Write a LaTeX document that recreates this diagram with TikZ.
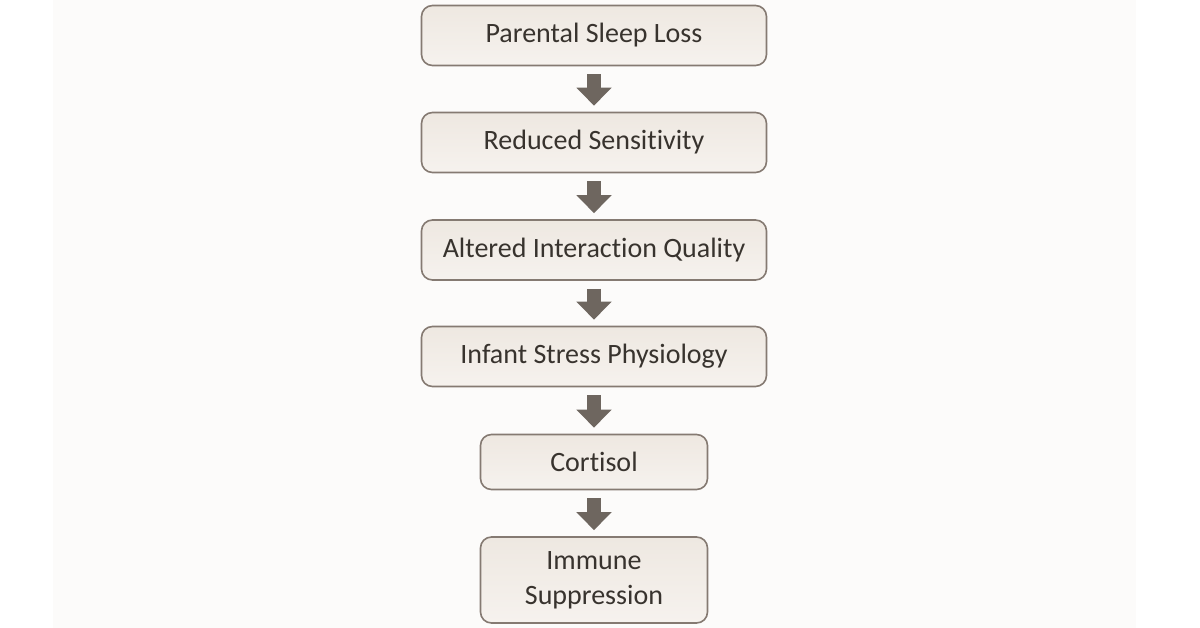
\documentclass[tikz,border=0pt]{standalone}
\usepackage{fontspec}
\setmainfont[RawFeature={-liga;-clig}]{Carlito}
\usetikzlibrary{arrows.meta}
\definecolor{bandbg}{HTML}{FCFBFA}
\definecolor{boxline}{HTML}{857A72}
\definecolor{boxtop}{HTML}{EEE8E1}
\definecolor{boxbot}{HTML}{F6F2EE}
\definecolor{txt}{HTML}{38332E}
\definecolor{arrowc}{HTML}{6E665F}
\tikzset{
  flowbox/.style={draw=boxline, line width=1.6pt, rounded corners=11pt,
    top color=boxtop, bottom color=boxbot, text=txt, align=center,
    font=\fontsize{28}{35}\selectfont, inner sep=0pt},
  widebox/.style={flowbox, minimum width=345pt, minimum height=60pt},
  narrowbox/.style={flowbox, minimum width=227pt, minimum height=55pt},
  blockarrow/.style={-{Triangle[length=18pt,width=34pt]}, line width=14pt, draw=arrowc}
}
\begin{document}
\begin{tikzpicture}[x=1pt,y=-1pt]
\useasboundingbox (0,0) rectangle (1200,628);
\fill[white] (0,0) rectangle (1200,628);
\fill[bandbg] (53,0) rectangle (1136,628);
\node[widebox] (n1) at (594,35.5) {Parental Sleep Loss};
\node[widebox] (n2) at (594,142.5) {Reduced Sensitivity};
\node[widebox] (n3) at (594,250) {Altered Interaction Quality};
\node[widebox] (n4) at (594,356.5) {Infant Stress Physiology};
\node[narrowbox] (n5) at (594,462) {Cortisol};
\node[flowbox, minimum width=227pt, minimum height=86pt] (n6) at (594,580) {Immune\\Suppression};
\foreach \a/\b in {n1/n2,n2/n3,n3/n4,n4/n5,n5/n6}{
  \draw[blockarrow] ([yshift=-8pt]\a.south) -- ([yshift=6pt]\b.north);
}
\end{tikzpicture}
\end{document}
